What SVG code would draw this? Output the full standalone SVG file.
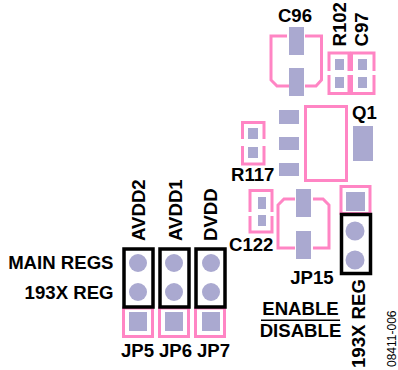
<svg xmlns="http://www.w3.org/2000/svg" width="398" height="370" viewBox="0 0 398 370">
<style>
.o{fill:none;stroke:#ff85c4;stroke-width:3}
.p{fill:#aaa9d0}
.b{fill:none;stroke:#000;stroke-width:3.500}
text{font-family:"Liberation Sans",Arial,sans-serif;font-weight:bold;fill:#000;font-size:18.600px}
</style>
<rect width="398" height="370" fill="#fff"/>
<g id="C96"><path class="o" d="M287 36H271V80L277 86H290M305 36H321.500V80L316 86H305"/><rect class="p" x="289" y="27" width="15" height="28"/><rect class="p" x="289" y="68" width="15" height="28"/><text x="295" y="22" text-anchor="middle">C96</text></g>
<g id="R102"><path class="o" d="M329 71V53H349V71M329 75V93.500H349V75"/><rect class="p" x="335" y="59" width="9" height="11"/><rect class="p" x="335" y="77" width="9" height="11"/><text transform="translate(346,46.500) rotate(-90)">R102</text></g>
<g id="C97"><path class="o" d="M351.500 71V53H374V71M351.500 75V93.500H374V75"/><rect class="p" x="358" y="59" width="9" height="11"/><rect class="p" x="358" y="77" width="9" height="11"/><text transform="translate(368,46.500) rotate(-90)">C97</text></g>
<g id="U"><rect class="o" x="305.500" y="106.500" width="41" height="74"/><rect class="p" x="279" y="110" width="20" height="14"/><rect class="p" x="279" y="137" width="20" height="13"/><rect class="p" x="279" y="163" width="20" height="13"/></g>
<g id="Q1"><rect class="p" x="353" y="126" width="20" height="35"/><text x="352" y="119">Q1</text></g>
<g id="R117"><path class="o" d="M242.500 139V122.500H264V139M242.500 146V164H264V146"/><rect class="p" x="248" y="128" width="10" height="11"/><rect class="p" x="248" y="147" width="10" height="11"/><text x="231" y="181">R117</text></g>
<g id="C122"><path class="o" d="M250 212V190.500H272V212M250 216V232H272V216"/><rect class="p" x="258" y="197" width="8" height="12"/><rect class="p" x="258" y="215" width="8" height="11"/><text x="229" y="251">C122</text></g>
<g id="JP15"><path class="o" d="M295 199H284L278 205V248H295M313 199H323L329 205V248H313"/><rect class="p" x="296" y="189" width="15" height="28"/><rect class="p" x="296" y="231" width="15" height="28"/><text x="312" y="284" text-anchor="middle">JP15</text></g>
<g id="REG193X"><rect class="o" x="341" y="186.500" width="29" height="27"/><rect class="p" x="346" y="192" width="19" height="19"/><rect class="b" x="341.500" y="214.500" width="29" height="59"/><circle class="p" cx="355" cy="231" r="9.500"/><circle class="p" cx="355" cy="260" r="9.500"/><text transform="translate(365,368) rotate(-90)">193X REG</text></g>
<g id="EnableDisable"><text x="300.500" y="315" text-anchor="middle">ENABLE</text><rect x="261" y="319.500" width="79" height="1.500"/><text x="300.500" y="337" text-anchor="middle">DISABLE</text></g>
<g id="JP5"><rect class="o" x="123.500" y="308" width="29" height="28.500"/><rect class="p" x="129" y="312" width="18" height="19"/><rect class="b" x="124" y="249" width="29" height="58"/><circle class="p" cx="138" cy="263" r="9"/><circle class="p" cx="138" cy="292" r="9"/><text x="121" y="357">JP5</text><text transform="translate(145,241) rotate(-90)">AVDD2</text></g>
<g id="JP6"><rect class="o" x="159.500" y="308" width="29" height="28.500"/><rect class="p" x="165" y="312" width="18" height="19"/><rect class="b" x="160" y="249" width="29" height="58"/><circle class="p" cx="174" cy="263" r="9"/><circle class="p" cx="174" cy="292" r="9"/><text x="159" y="357">JP6</text><text transform="translate(181.500,241) rotate(-90)">AVDD1</text></g>
<g id="JP7"><rect class="o" x="195.500" y="308" width="29" height="28.500"/><rect class="p" x="202" y="312" width="18" height="19"/><rect class="b" x="196" y="249" width="29" height="58"/><circle class="p" cx="211" cy="263" r="9"/><circle class="p" cx="211" cy="292" r="9"/><text x="197" y="357">JP7</text><text transform="translate(216.500,241) rotate(-90)">DVDD</text></g>
<g id="labels"><text x="113.500" y="268.500" text-anchor="end">MAIN REGS</text><text x="113.500" y="299" text-anchor="end">193X REG</text><text transform="translate(396,367) rotate(-90)" style="font-weight:normal;font-size:12px">08411-006</text></g>
</svg>
